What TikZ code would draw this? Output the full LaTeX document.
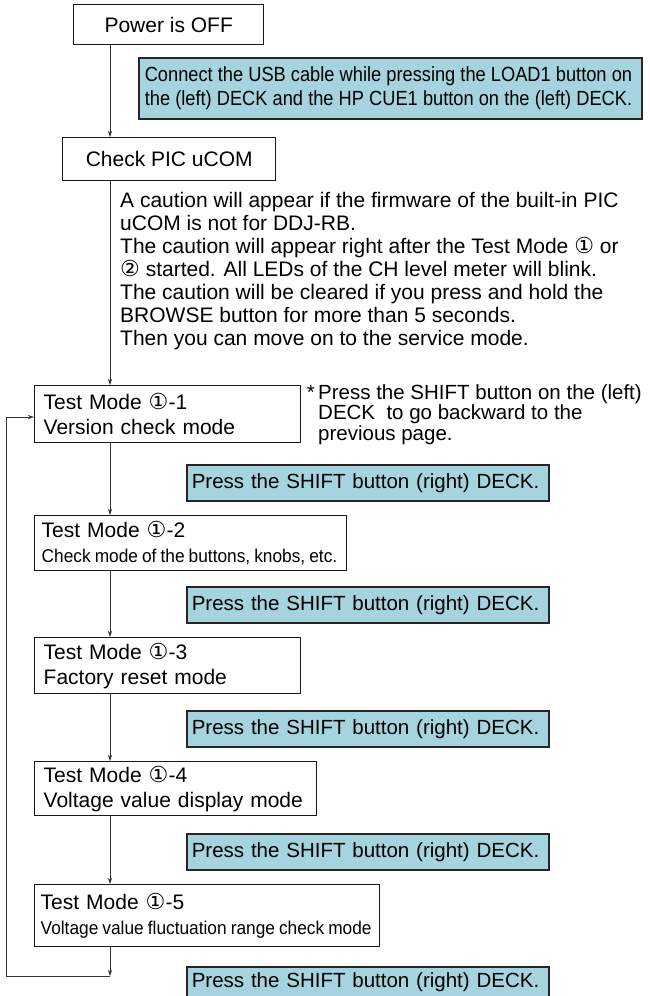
\documentclass[tikz,border=0pt]{standalone}
\usepackage{fontspec}
\setmainfont{Liberation Sans}
\newfontfamily\condfont{Liberation Sans}[FakeStretch=0.935]
\newfontfamily\narrowfont{Liberation Sans}[FakeStretch=0.89]
\newfontfamily\circfont{DejaVu Sans}[Scale=1.05]
\usetikzlibrary{arrows.meta}
\definecolor{noteblue}{RGB}{166,212,222}
\newcommand{\cOne}{{\circfont ①}}
\newcommand{\cTwo}{{\circfont ②}}
\newcommand{\smalltext}[1]{\mbox{\condfont\fontsize{18.5}{20}\selectfont\spaceskip=0.22em\relax #1}}
\newcommand{\narrowline}[1]{\mbox{\narrowfont\fontsize{20.5}{24}\selectfont\spaceskip=0.25em\relax #1}}
\begin{document}
\begin{tikzpicture}[x=1pt,y=-1pt,
  box/.style={draw=black!90, line width=1.4pt, fill=white, inner ysep=0pt,
    anchor=north west, font=\fontsize{21}{25}\selectfont},
  bluebox/.style={draw=black!85, line width=1.6pt, fill=noteblue, inner ysep=0pt,
    anchor=north west, align=left, font=\fontsize{20.5}{24}\selectfont},
  plain/.style={anchor=north west, align=left, inner sep=0pt,
    font=\fontsize{21}{23}\selectfont},
  arr/.style={-{Stealth[length=6pt,width=4pt]}, line width=0.7pt, draw=black!80},
  ln/.style={line width=0.7pt, draw=black!80}]
\useasboundingbox (0,0) rectangle (650,996);

\node[box, minimum width=190, minimum height=40, align=center, inner xsep=0pt] (power) at (73,4) {Power is OFF};
\node[bluebox, text width=491, inner xsep=6pt, minimum height=61] (b1) at (138,57)
  {\narrowline{Connect the USB cable while pressing the LOAD1 button on}\\\narrowline{the (left) DECK and the HP CUE1 button on the (left) DECK.}};
\node[box, minimum width=213, minimum height=43, align=center, inner xsep=0pt] (pic) at (62,137) {Check PIC uCOM};
\node[plain] (caution) at (120,192)
  {A caution will appear if the firmware of the built-in PIC\\
   uCOM is not for DDJ-RB.\\
   The caution will appear right after the Test Mode \cOne{} or\\
   \cTwo{} started. All LEDs of the CH level meter will blink.\\
   The caution will be cleared if you press and hold the\\
   BROWSE button for more than 5 seconds.\\
   Then you can move on to the service mode.};

\node[box, text width=248, inner xsep=9pt, minimum height=57, align=left] (t1) at (34,385)
  {Test Mode \cOne-1\\Version check mode};
\node[plain, font=\fontsize{20.5}{20.5}\selectfont] (star) at (318,384)
  {\llap{*\,}Press the SHIFT button on the (left)\\DECK\ \ to go backward to the\\previous page.};

\node[bluebox, text width=352, inner xsep=5pt, minimum height=36] (b2) at (186,464) {Press the SHIFT button (right) DECK.};
\node[box, text width=298, inner xsep=7pt, minimum height=55, align=left] (t2) at (34,515)
  {Test Mode \cOne-2\\\smalltext{Check mode of the buttons, knobs, etc.}};
\node[bluebox, text width=352, inner xsep=5pt, minimum height=36] (b3) at (186,586) {Press the SHIFT button (right) DECK.};
\node[box, text width=248, inner xsep=9pt, minimum height=56, align=left] (t3) at (34,637)
  {Test Mode \cOne-3\\Factory reset mode};
\node[bluebox, text width=352, inner xsep=5pt, minimum height=36] (b4) at (186,710) {Press the SHIFT button (right) DECK.};
\node[box, text width=264, inner xsep=9pt, minimum height=54, align=left] (t4) at (34,761)
  {Test Mode \cOne-4\\Voltage value display mode};
\node[bluebox, text width=352, inner xsep=5pt, minimum height=36] (b5) at (186,833) {Press the SHIFT button (right) DECK.};
\node[box, text width=333, inner xsep=6pt, minimum height=62, align=left] (t5) at (34,884)
  {Test Mode \cOne-5\\\smalltext{Voltage value fluctuation range check mode}};
\node[bluebox, text width=352, inner xsep=5pt, minimum height=30] (b6) at (186,966) {Press the SHIFT button (right) DECK.};

\coordinate (loopend) at (110,976);
\coordinate (loopbl) at (6,976);
\coordinate (looptl) at (6,417);

\draw[arr] (power.south -| 110,0) -- (pic.north -| 110,0);
\draw[arr] (pic.south -| 110,0) -- (t1.north -| 110,0);
\draw[arr] (t1.south -| 110,0) -- (t2.north -| 110,0);
\draw[arr] (t2.south -| 110,0) -- (t3.north -| 110,0);
\draw[arr] (t3.south -| 110,0) -- (t4.north -| 110,0);
\draw[arr] (t4.south -| 110,0) -- (t5.north -| 110,0);
\draw[arr] (t5.south -| 110,0) -- (loopend);
\draw[ln] (loopend) -- (loopbl) -- (looptl);
\draw[arr] (looptl) -- (looptl -| t1.west);
\end{tikzpicture}
\end{document}
